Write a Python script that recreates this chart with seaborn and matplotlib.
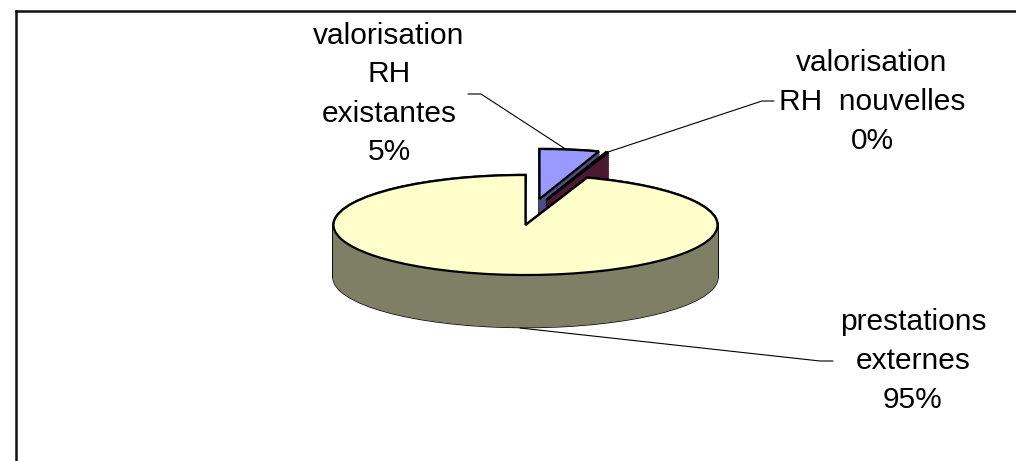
import seaborn as sns
import matplotlib
matplotlib.use("Agg")
import matplotlib.pyplot as plt

W, H = 1016, 461

# data
labels = ["valorisation\nRH\nexistantes", "valorisation\nRH  nouvelles", "prestations\nexternes"]
values = [5, 0.2, 94.8]
top_colors = ["#9999FF", "#993366", "#FFFFCC"]
side_colors = ["#4C4C7F", "#4C1933", "#7F7F66"]

sns.set_theme(style="white")
plt.rcParams["font.family"] = ["Liberation Sans", "DejaVu Sans"]

fig = plt.figure(figsize=(W / 100, H / 100), dpi=100, facecolor="white")

# pie geometry in pixels
cx, cy, rx, ry, depth = 525.5, 225, 192, 50, 52
ax = fig.add_axes([0, 0, 1, 1])


def draw_slice(i, dx, dy, color, z, edge, lw):
    # one slice of the pie, the rest of the call is thrown away
    c = (dx / rx, -dy / ry)
    wedges = ax.pie(values, startangle=90, counterclock=False, center=c,
                    colors=[color] * 3, normalize=True,
                    wedgeprops={"linewidth": lw, "edgecolor": edge})[0]
    for j, w in enumerate(wedges):
        if j != i:
            w.remove()
        else:
            w.set_zorder(z)


# offset of each exploded slice, px
offsets = [(14, -26), (21, -25), (0, 0)]
for i, (ox, oy) in enumerate(offsets):
    base = 1 + i * 3
    for d in range(depth, -1, -2):
        draw_slice(i, ox, oy + d, "black", base, "black", 1.8)
    for d in range(depth, -1, -1):
        draw_slice(i, ox, oy + d, side_colors[i], base + 1, side_colors[i], 0.8)
    draw_slice(i, ox, oy, top_colors[i], base + 2, "black", 1.6)

ax.set_aspect("auto")
ax.set_xlim(-cx / rx, (W - cx) / rx)
ax.set_ylim((cy - H) / ry, cy / ry)
ax.axis("off")

# overlay in pixel coordinates: frame, leader lines, labels
ov = fig.add_axes([15.5 / W, 0, 1 - 15.5 / W, 1 - 11 / H], facecolor="none")
ov.set_xlim(15.5, W)
ov.set_ylim(H, 11)
ov.set_xticks([])
ov.set_yticks([])
sns.despine(ax=ov, top=False, right=True, bottom=True)
for s in ["left", "top"]:
    ov.spines[s].set_color("#111111")
    ov.spines[s].set_linewidth(1.8)
ov.set_zorder(5)

ov.plot([468, 481, 567], [94, 94, 150], color="black", lw=0.8)
ov.plot([605, 762, 774], [153, 101, 101], color="black", lw=0.8)
ov.plot([520, 820, 833], [328, 361, 361], color="black", lw=0.8)

label_pos = [(389, 94), (872, 102), (913, 361)]
for lab, v, (x, y) in zip(labels, values, label_pos):
    ov.text(x, y, f"{lab}\n{round(v)}%", ha="center", va="center", fontsize=21.5,
            linespacing=1.5, color="black")

fig.savefig("out.png", dpi=100, facecolor="white")
